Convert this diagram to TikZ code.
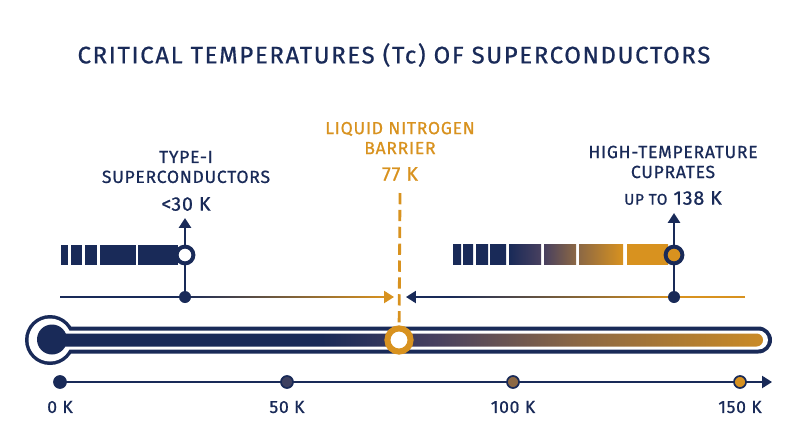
\documentclass[tikz,border=0pt]{standalone}
\usepackage{fontspec}
\setmainfont{Fira Sans}[FakeBold=0.7, LetterSpace=4]
\usetikzlibrary{arrows.meta, positioning, calc}

\definecolor{navy}{RGB}{25,42,88}
\definecolor{amber}{RGB}{216,146,31}
\definecolor{dusk}{RGB}{72,64,95}
\definecolor{umber}{RGB}{140,104,68}
\definecolor{slate}{RGB}{62,64,96}

\pgfdeclarehorizontalshading{thermofill}{100bp}{color(0bp)=(navy); color(44bp)=(navy); color(52bp)=(dusk); color(62bp)=(umber); color(78bp)=(amber); color(100bp)=(amber)}

\begin{document}
\begin{tikzpicture}[x=0.025cm, y=0.025cm,
	headtext/.style={align=center, text=navy, font=\fontsize{12.5}{14.2}\selectfont},
	valtext/.style={text=navy, font=\fontsize{14}{16}\selectfont},
	ticktext/.style={text=navy, font=\fontsize{12.5}{15}\selectfont},
	ringnode/.style={circle, draw=navy, line width=2.8pt, fill=white, inner sep=0pt, minimum size=0.42cm},
	dotnode/.style={circle, fill=navy, inner sep=0pt, minimum size=0.3cm},
	tickdot/.style={circle, draw=navy, line width=1.2pt, inner sep=0pt, minimum size=0.3cm},
	thinline/.style={line width=1.4pt},
	bigtip/.style={-{Triangle[length=7pt, width=8.5pt]}}]
	\useasboundingbox (0,0) rectangle (800,-447);

	% Title
	\node[text=navy, font=\fontsize{17}{19}\selectfont\addfontfeatures{LetterSpace=7}] (title) at (394,-55) {CRITICAL TEMPERATURES (Tc) OF SUPERCONDUCTORS};

	% Labels
	\node[headtext] (typehead) at (186,-167) {TYPE-I\\SUPERCONDUCTORS};
	\node[valtext] (typeval) at (186,-204) {<30 K};
	\node[headtext, text=amber] (nitrohead) at (400,-138) {LIQUID NITROGEN\\BARRIER};
	\node[valtext, text=amber] (nitroval) at (400,-174) {77 K};
	\node[headtext] (cuphead) at (673,-162) {HIGH-TEMPERATURE\\CUPRATES};
	\node[valtext] (cupval) at (673,-198) {{\fontsize{11}{13}\selectfont UP TO} 138 K};

	% Key points
	\coordinate (typering) at (185,-255);
	\coordinate (typedot) at (185,-297);
	\coordinate (typetip) at (185,-218);
	\coordinate (cupring) at (674,-255);
	\coordinate (cupdot) at (674,-297);
	\coordinate (cuptip) at (674,-213);
	\coordinate (lstart) at (60,-297);
	\coordinate (ltip) at (394,-297);
	\coordinate (rstart) at (745,-297);
	\coordinate (rtip) at (406,-297);
	\coordinate (barrier) at (399,-340);
	\coordinate (dashtop) at (400,-193);

	% Segmented bars
	\foreach \a/\b in {61/68, 71/82, 85/97, 100/136, 138/178}
		\fill[navy] (\a,-245) rectangle (\b,-265);
	\foreach \a/\b/\c/\d in {453/461/navy/navy, 463/473/navy/navy, 476/488/navy/navy, 490/506/navy/navy, 509/541/navy/dusk, 544/576/dusk/umber, 579/623/umber/amber, 627/668/amber/amber}
		\shade[left color=\c, right color=\d] (\a,-244) rectangle (\b,-264);

	% Vertical arrows
	\draw[navy, line width=2pt, bigtip] (typedot) -- (typetip);
	\draw[navy, line width=2pt, bigtip] (cupdot) -- (cuptip);

	% Horizontal arrows
	\draw[navy, thinline] (lstart) -- (typedot);
	\shade[left color=navy, right color=amber] ($(typedot)+(0,0.8)$) rectangle ($(ltip)+(-9,-0.8)$);
	\draw[amber, thinline, bigtip] ($(ltip)+(-10,0)$) -- (ltip);
	\draw[amber, thinline] (rstart) -- (cupdot);
	\draw[navy, thinline] ($(rtip)+(9,0)$) -- (450,-297);
	\shade[left color=navy, right color=amber] (450,-296.2) rectangle ($(cupdot)+(0,-0.8)$);
	\draw[navy, thinline, bigtip] ($(rtip)+(10,0)$) -- (rtip);

	% Barrier line
	\draw[amber, line width=2pt, dash pattern=on 8pt off 4pt] (dashtop) -- (barrier);

	% Thermometer
	\fill[navy] (50,-340) circle (25);
	\fill[navy, rounded corners=0.34cm] (50,-326.5) rectangle (772,-353.5);
	\fill[white] (50,-340) circle (21.5);
	\fill[white, rounded corners=0.24cm] (50,-330.5) rectangle (768,-349.5);
	\fill[navy] (52,-339.5) circle (15);
	\shade[shading=thermofill, rounded corners=0.16cm] (52,-333.5) rectangle (763,-346.5);

	% Rings and dots
	\node[ringnode] (typeone) at (typering) {};
	\node[ringnode, fill=amber] (cuprates) at (cupring) {};
	\node[ringnode, draw=amber, line width=4.3pt, minimum size=0.58cm] (nitrogen) at (barrier) {};
	\node[dotnode] (typepoint) at (typedot) {};
	\node[dotnode] (cuppoint) at (cupdot) {};

	% Temperature axis
	\coordinate (k0) at (60,-382);
	\coordinate (axisend) at (772,-382);
	\draw[navy, thinline, bigtip] (k0) -- (axisend);
	\foreach \x/\t/\c/\n in {60/0 K/navy/zero, 287/50 K/slate/fifty, 513/100 K/umber/hundred, 740/150 K/amber/onefifty} {
		\node[tickdot, fill=\c] (dot\n) at (\x,-382) {};
		\node[ticktext] (tick\n) at (\x,-407) {\t};
	}
\end{tikzpicture}
\end{document}
